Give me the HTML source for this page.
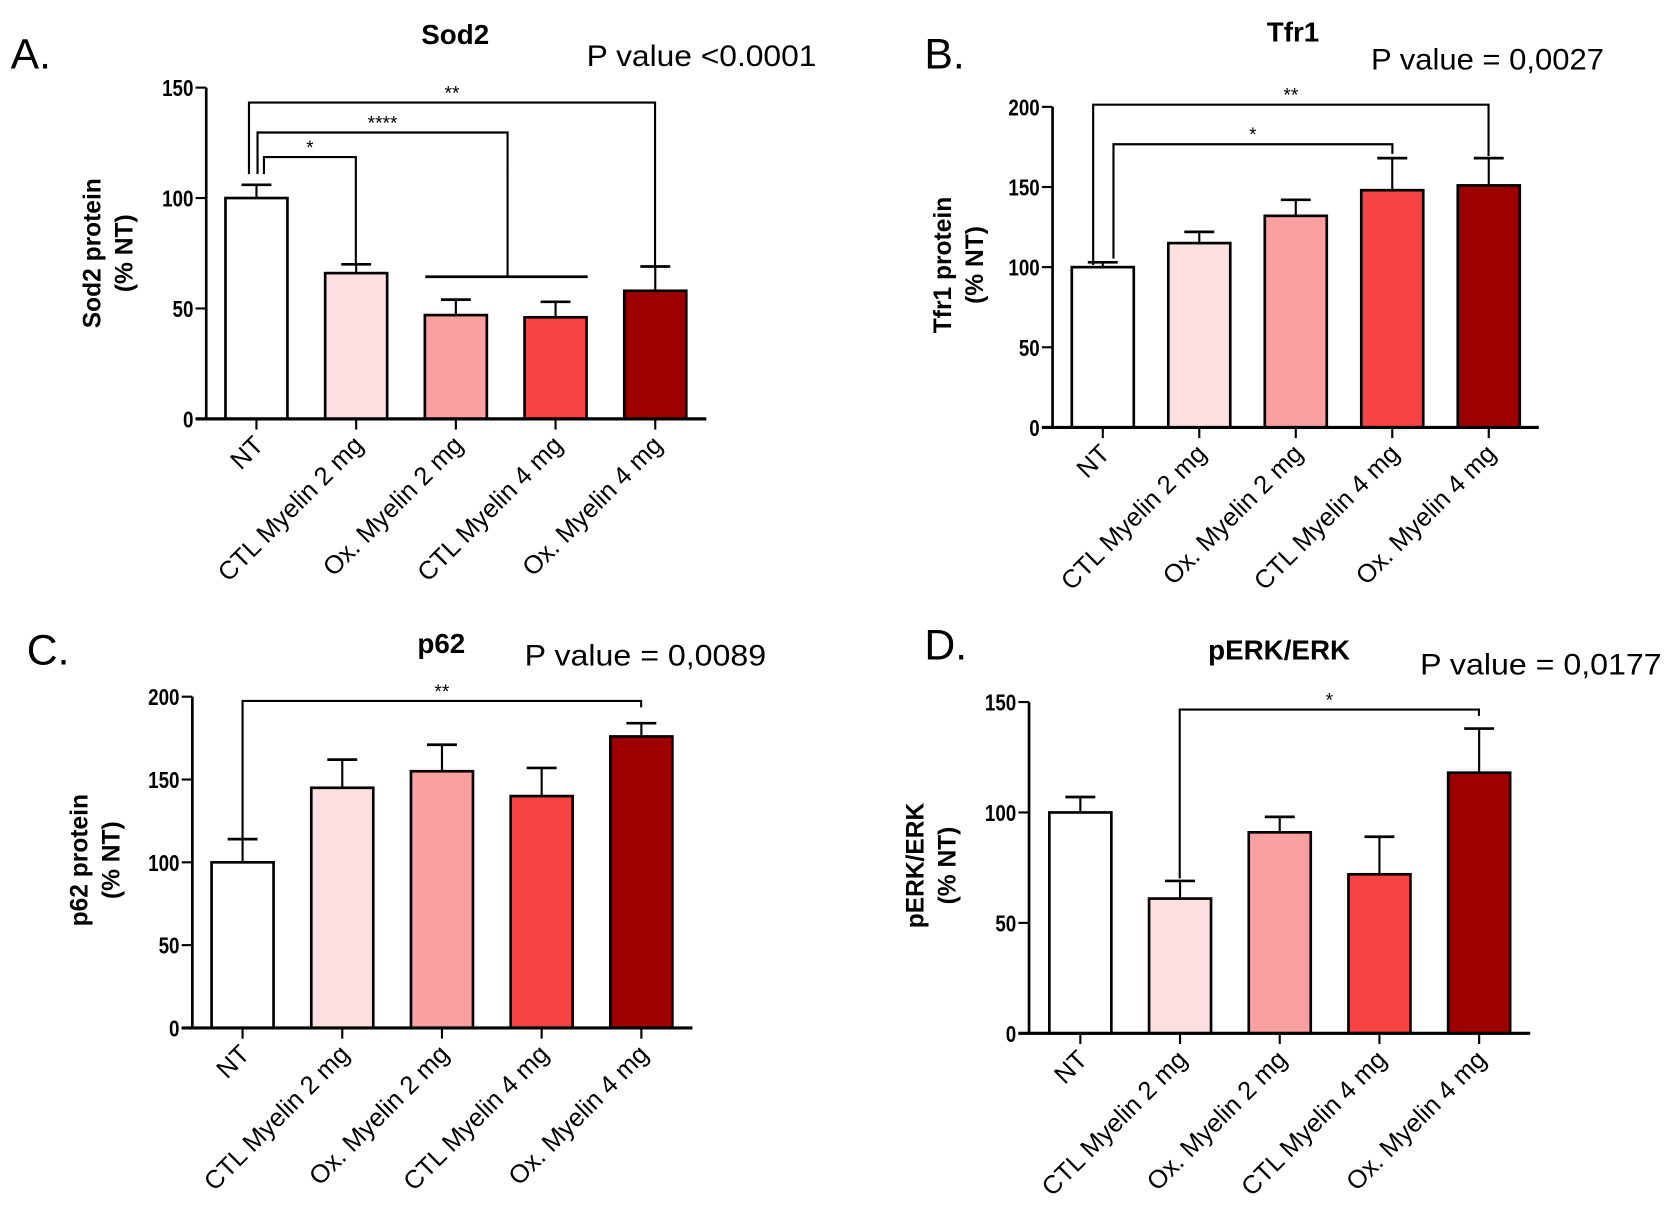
<!DOCTYPE html>
<html><head><meta charset="utf-8">
<style>
html,body{margin:0;padding:0;background:#fff;}
svg{display:block;}
text{font-family:"Liberation Sans",sans-serif;fill:#000;}
</style></head>
<body>
<svg id="fig" width="1667" height="1222" viewBox="0 0 1560 1143.6" preserveAspectRatio="none" xmlns="http://www.w3.org/2000/svg"></svg>
<script>
const categories = ["NT","CTL Myelin 2 mg","Ox. Myelin 2 mg","CTL Myelin 4 mg","Ox. Myelin 4 mg"];
const colors = ["#ffffff","#fcdfe0","#fba0a0","#f74343","#9e0000"];
const sod2Values = [100,66,47,46,58];
const sod2Errors = [6,4,7,7,11];
const sod2Ticks = [0,50,100,150];
const tfr1Values = [100,115,132,148,151];
const tfr1Errors = [3,7,10,20,17];
const tfr1Ticks = [0,50,100,150,200];
const p62Values = [100,145,155,140,176];
const p62Errors = [14,17,16,17,8];
const p62Ticks = [0,50,100,150,200];
const perkValues = [100,61,91,72,118];
const perkErrors = [7,8,7,17,20];
const perkTicks = [0,50,100,150];

const NS="http://www.w3.org/2000/svg";
const svg=document.getElementById('fig');
function mk(tag,attrs,parent,txt){const e=document.createElementNS(NS,tag);for(const k in attrs)e.setAttribute(k,attrs[k]);if(txt!==undefined)e.textContent=txt;(parent||svg).appendChild(e);return e;}

function panel(p){
  const g=mk('g',{});
  
  
  const yS=v=>p.y0-(v/p.vmax)*(p.y0-p.ytop);
  const xS=i=>p.x1+i*p.dx;
  p.values.forEach((v,i)=>{
    const cx=xS(i),w=58;
    const top=yS(v+p.errors[i]);
    const el=mk('line',{x1:cx,x2:cx,y1:yS(v),y2:top,stroke:'#000','stroke-width':2},g);
    
    
    const cap=mk('line',{x1:cx-14,x2:cx+14,y1:top,y2:top,stroke:'#000','stroke-width':2.5},g);
    
    
    const r=mk('rect',{x:cx-w/2,y:yS(v),width:w,height:p.y0-yS(v),fill:colors[i],stroke:'#000','stroke-width':2.5},g);
    
    
    const t=mk('line',{x1:cx,x2:cx,y1:p.y0,y2:p.y0+10,stroke:'#000','stroke-width':2},g);
    
    
    const lx=cx+8,ly=p.y0+26;
    const lab=mk('text',{x:lx,y:ly,'text-anchor':'end','font-size':24,transform:`rotate(-45 ${lx} ${ly})`},g,categories[i]);
    
    
  });
  const ya=mk('line',{x1:p.ax,x2:p.ax,y1:p.ytop,y2:p.y0,stroke:'#000','stroke-width':2.5},g);
  
  
  const xa=mk('line',{x1:p.ax-10,x2:p.xend,y1:p.y0,y2:p.y0,stroke:'#000','stroke-width':3},g);
  
  
  p.ticks.forEach(v=>{
    const y=yS(v);
    const tk=mk('line',{x1:p.ax-10,x2:p.ax,y1:y,y2:y,stroke:'#000','stroke-width':2},g);
    
    
    const tl=mk('text',{x:p.ax-12,y:y+8,'text-anchor':'end','font-size':22,'font-weight':'bold',transform:`translate(${p.ax-12} 0) scale(0.8 1) translate(${-(p.ax-12)} 0)`},g,String(v));
    
    
  });
  const yt=mk('text',{x:0,y:0,'text-anchor':'middle','font-size':23,'font-weight':'bold',transform:`translate(${p.ytx} ${p.yty}) rotate(-90)`},g);
  
  
  mk('tspan',{x:0,dy:0},yt,p.ytitle[0]);
  mk('tspan',{x:0,dy:30},yt,p.ytitle[1]);
  const tt=mk('text',{x:p.tx,y:p.ty,'text-anchor':'middle','font-size':26,'font-weight':'bold'},g,p.title);
  
  
  const pv=mk('text',{x:p.px,y:p.py,'font-size':28,textLength:p.pw,lengthAdjust:'spacingAndGlyphs'},g,p.ptext);
  
  
  const pl=mk('text',{x:p.lx,y:p.ly,'font-size':40},g,p.letter);
  
  
  p.brackets.forEach(b=>{
    const pth=`M${b[0]},${b[3]} L${b[0]},${b[2]} L${b[1]},${b[2]} L${b[1]},${b[4]}`;
    const br=mk('path',{d:pth,fill:'none',stroke:'#000','stroke-width':2},g);
    
    
    const st=mk('text',{x:(b[0]+b[1])/2,y:b[2]-3,'text-anchor':'middle','font-size':18},g,b[5]);
    
    
  });
  (p.extra||[]).forEach(l=>{
    const e=mk('line',{x1:l[0],y1:l[1],x2:l[2],y2:l[3],stroke:'#000','stroke-width':2.5},g);
    
    
  });
}

panel({name:'panel-a-sod2',values:sod2Values,errors:sod2Errors,ticks:sod2Ticks,vmax:150,ax:193,y0:392,ytop:82,x1:240,dx:93.3,xend:661,
  ytitle:['Sod2 protein','(% NT)'],ytx:94,yty:237,title:'Sod2',tx:426,ty:41,ptext:'P value <0.0001',pw:215,px:549,py:62,letter:'A.',lx:10,ly:64,
  brackets:[[233,613,96,163,249,'**'],[241,475,124,163,259,'****'],[247,333,147,163,247,'*']],
  extra:[[398,259,550,259]]});
panel({name:'panel-b-tfr1',values:tfr1Values,errors:tfr1Errors,ticks:tfr1Ticks,vmax:200,ax:985,y0:400,ytop:100,x1:1032,dx:90.3,xend:1440,
  ytitle:['Tfr1 protein','(% NT)'],ytx:890,yty:248,title:'Tfr1',tx:1210,ty:39,ptext:'P value = 0,0027',pw:218,px:1283,py:65,letter:'B.',lx:865,ly:64,
  brackets:[[1023,1393,98,248,146,'**'],[1042,1303,135,242,144,'*']]});
panel({name:'panel-c-p62',values:p62Values,errors:p62Errors,ticks:p62Ticks,vmax:200,ax:180,y0:962,ytop:652,x1:227,dx:93.3,xend:648,
  ytitle:['p62 protein','(% NT)'],ytx:82,yty:805,title:'p62',tx:413,ty:611,ptext:'P value = 0,0089',pw:226,px:491,py:623,letter:'C.',lx:25,ly:622,
  brackets:[[227,600,656,785,662,'**']]});
panel({name:'panel-d-perk',values:perkValues,errors:perkErrors,ticks:perkTicks,vmax:150,ax:963,y0:967,ytop:657,x1:1011,dx:93.3,xend:1432,
  ytitle:['pERK/ERK','(% NT)'],ytx:864,yty:810,title:'pERK/ERK',tx:1197,ty:617,ptext:'P value = 0,0177',pw:226,px:1329,py:631,letter:'D.',lx:865,ly:617,
  brackets:[[1104,1384,664,822,670,'*']]});
</script>
</body></html>
